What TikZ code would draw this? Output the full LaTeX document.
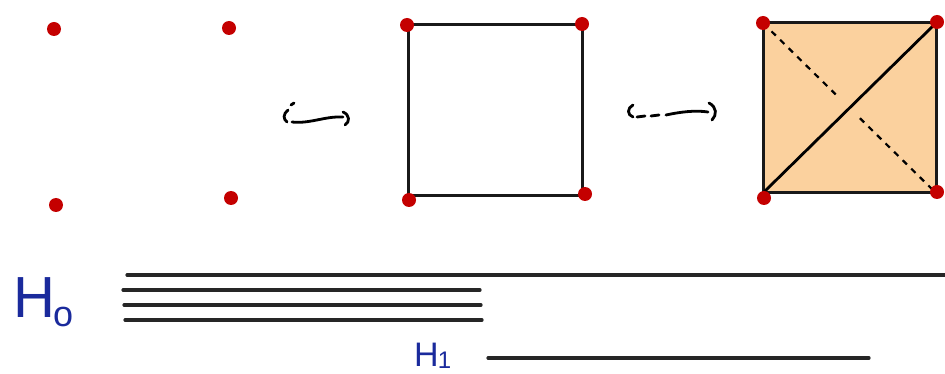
\documentclass[tikz,border=0pt]{standalone}
\usepackage{fontspec}
\setmainfont{Liberation Sans}
\usetikzlibrary{calc}
\definecolor{dotred}{HTML}{C40000}
\definecolor{fillor}{HTML}{FBD19E}
\definecolor{inkblue}{HTML}{1A2A9C}
\begin{document}
\begin{tikzpicture}[x=1pt,y=-1pt,
  vert/.style={circle,fill=dotred,inner sep=0pt,minimum size=14pt},
  edge/.style={line width=3pt,black!90},
  bar/.style={line width=3.2pt,black!85,line cap=round},
  hook/.style={line width=2.8pt,black,line cap=round},
  lab/.style={inkblue,inner sep=0pt,anchor=base west}]
\useasboundingbox (0,0) rectangle (945,374);
% first complex: four points
\node[vert] (a1) at (54,29) {};
\node[vert] (a2) at (229,28) {};
\node[vert] (a3) at (56,205) {};
\node[vert] (a4) at (231,198) {};
% inclusion 1
\draw[hook] (288,110) .. controls (283,114) and (283,119) .. (287,122);
\draw[hook] (291,105) -- (294,103);
\draw[hook] (292,122) .. controls (310,124) and (325,116) .. (343,117);
\draw[hook] (343,112) .. controls (350,115) and (350,122) .. (345,125);
% second complex: square
\coordinate (b1) at (408,25);
\coordinate (b2) at (582,25);
\coordinate (b3) at (582,196);
\coordinate (b4) at (408,196);
\draw[edge] (b1) -- (b2) -- (b3) -- (b4) -- cycle;
\node[vert] (vb1) at (407,25) {};
\node[vert] (vb2) at (582,24) {};
\node[vert] (vb3) at (585,194) {};
\node[vert] (vb4) at (409,200) {};
% inclusion 2
\draw[hook] (633,105) .. controls (627,108) and (627,115) .. (633,117);
\draw[hook] (637,117) -- (645,116);
\draw[hook] (651,116) -- (659,115);
\draw[hook] (666,115) .. controls (680,112) and (695,110) .. (708,112);
\draw[hook] (709,103) .. controls (717,107) and (717,115) .. (712,120);
% third complex: filled square
\coordinate (c1) at (763,23);
\coordinate (c2) at (936,23);
\coordinate (c3) at (936,193);
\coordinate (c4) at (763,193);
\fill[fillor] (c1) -- (c2) -- (c3) -- (c4) -- cycle;
\draw[edge] (c1) -- (c2) -- (c3) -- (c4) -- cycle;
\draw[line width=2.8pt] (c4) -- (c2);
\draw[line width=2.2pt,dash pattern=on 6pt off 6pt] (c1) -- ($(c1)!0.42!(c3)$);
\draw[line width=2.2pt,dash pattern=on 6pt off 6pt] ($(c1)!0.56!(c3)$) -- (c3);
\node[vert] (vc1) at (763,23) {};
\node[vert] (vc2) at (937,22) {};
\node[vert] (vc3) at (937,192) {};
\node[vert] (vc4) at (764,198) {};
% barcode
\coordinate (h0a) at (127,275);
\coordinate (h0b) at (950,275);
\draw[bar] (h0a) -- (h0b);
\coordinate (h1a) at (123,290); \coordinate (h1b) at (480,290);
\coordinate (h2a) at (124,305); \coordinate (h2b) at (481,305);
\coordinate (h3a) at (125,320); \coordinate (h3b) at (482,320);
\draw[bar] (h1a) -- (h1b);
\draw[bar] (h2a) -- (h2b);
\draw[bar] (h3a) -- (h3b);
\coordinate (k1a) at (488,358); \coordinate (k1b) at (869,358);
\draw[bar] (k1a) -- (k1b);
% labels
\node[lab] (H0) at (13,317) {\fontsize{58}{58}\selectfont H\kern-2pt\raisebox{-0.16em}{\fontsize{36}{36}\selectfont o}};
\node[lab] (H1) at (414,366) {\fontsize{34}{34}\selectfont H\kern-1pt\raisebox{-0.08em}{\fontsize{24}{24}\selectfont 1}};
\end{tikzpicture}
\end{document}
